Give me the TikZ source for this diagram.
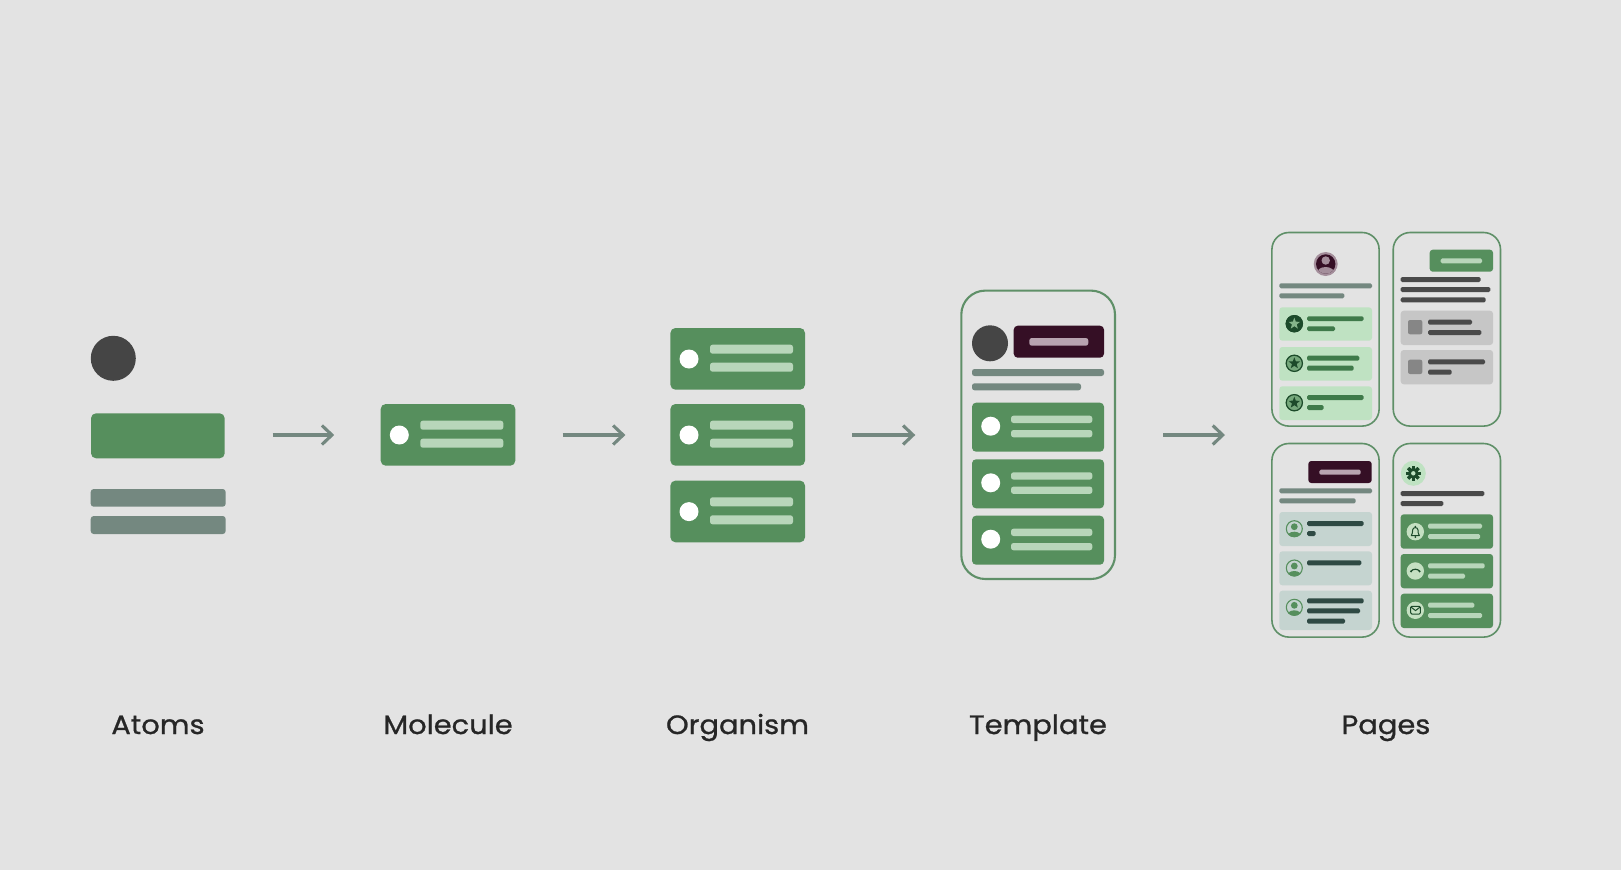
\documentclass[tikz,border=0pt]{standalone}
\usepackage{fontspec}
\setmainfont{Poppins}[FakeBold=0.9,FakeStretch=1.09]
\usetikzlibrary{arrows.meta,shapes.geometric}
\definecolor{bg}{HTML}{E3E3E3}
\definecolor{leaf}{HTML}{568F5D}
\definecolor{slate}{HTML}{748880}
\definecolor{char}{HTML}{454545}
\definecolor{plum}{HTML}{350F25}
\definecolor{mauve}{HTML}{B8A4B0}
\definecolor{pale}{HTML}{B8D6BA}
\definecolor{mint}{HTML}{BFE2C2}
\definecolor{mintbar}{HTML}{3F7A4A}
\definecolor{forest}{HTML}{1C4A2A}
\definecolor{cardgray}{HTML}{C6C6C6}
\definecolor{squaregray}{HTML}{868686}
\definecolor{barg}{HTML}{4A4A4A}
\definecolor{cardblue}{HTML}{C5D4D0}
\definecolor{bardeep}{HTML}{2F4A44}
\definecolor{ink}{HTML}{262626}
\definecolor{frameg}{HTML}{5F9068}
\definecolor{iconpale}{HTML}{C5E0C2}
\newcount\shapeno
\newcommand{\nextname}{\global\advance\shapeno by 1 }
% \rr[name]{x1}{y1}{x2}{y2}{colour}{radius}
\newcommand{\rr}[7][]{%
  \pgfmathsetmacro\rw{#4-(#2)}\pgfmathsetmacro\rh{#5-(#3)}%
  \nextname
  \def\thisname{#1}\ifx\thisname\empty\edef\thisname{s\the\shapeno}\fi
  \node[shapebox,fill=#6,rounded corners=#7pt,minimum width=\rw pt,minimum height=\rh pt] (\thisname) at (#2,#3) {};}
% \cc[name]{x}{y}{r}{colour}
\newcommand{\cc}[5][]{%
  \pgfmathsetmacro\rd{2*#4}%
  \nextname
  \def\thisname{#1}\ifx\thisname\empty\edef\thisname{s\the\shapeno}\fi
  \node[dot,fill=#5,minimum size=\rd pt] (\thisname) at (#2,#3) {};}
% \frm[name]{x1}{y1}{x2}{y2}{radius}{width}
\newcommand{\frm}[7][]{%
  \pgfmathsetmacro\rw{#4-(#2)}\pgfmathsetmacro\rh{#5-(#3)}%
  \node[shapebox,draw=frameg,line width=#7pt,rounded corners=#6pt,minimum width=\rw pt,minimum height=\rh pt] (#1) at (#2,#3) {};}
% big card of molecule/organism: \card[name]{x}{y}
\newcommand{\card}[3][]{%
  \pgfmathsetmacro\xa{#2+134.6}\pgfmathsetmacro\ya{#3+61.7}%
  \rr[#1]{#2}{#3}{\xa}{\ya}{leaf}{5}%
  \pgfmathsetmacro\xb{#2+18.6}\pgfmathsetmacro\yb{#3+31}%
  \cc{\xb}{\yb}{9.5}{white}%
  \pgfmathsetmacro\xc{#2+39.6}\pgfmathsetmacro\xd{#2+122.6}\pgfmathsetmacro\yc{#3+16.7}\pgfmathsetmacro\yd{#3+25.7}\pgfmathsetmacro\ye{#3+34.7}\pgfmathsetmacro\yf{#3+43.7}%
  \rr{\xc}{\yc}{\xd}{\yd}{pale}{2.5}%
  \rr{\xc}{\ye}{\xd}{\yf}{pale}{2.5}}
\newcommand{\tcard}[1]{% template card, top y
  \pgfmathsetmacro\ya{#1+49}\rr{972}{#1}{1104}{\ya}{leaf}{4}%
  \pgfmathsetmacro\yb{#1+23.5}\cc{990.7}{\yb}{9.5}{white}%
  \pgfmathsetmacro\yc{#1+13}\pgfmathsetmacro\yd{#1+20.3}\pgfmathsetmacro\ye{#1+27.3}\pgfmathsetmacro\yf{#1+34.6}%
  \rr{1011}{\yc}{1092.3}{\yd}{pale}{2.5}%
  \rr{1011}{\ye}{1092.3}{\yf}{pale}{2.5}}
\newcommand{\staricon}[4]{% x y ringfill starfill
  \cc{#1}{#2}{8.7}{#3}%
  \nextname
  \node[draw=forest,line width=1.2pt,circle,minimum size=16.2pt,inner sep=0pt,outer sep=0pt] (s\the\shapeno) at (#1,#2) {};
  \nextname
  \node[star,star points=5,star point ratio=2.4,fill=#4,minimum size=12pt,inner sep=0pt,outer sep=0pt] (s\the\shapeno) at (#1,#2) {};}
\newcommand{\usericon}[2]{%
  \begin{scope}
    \clip (#1,#2) circle (8.5pt);
    \fill[cardblue] (#1,#2) circle (8.5pt);
    \fill[leaf] (#1,#2) ++(0,-2) circle (3.4pt);
    \fill[leaf] (#1,#2) ++(0,9.5) ellipse (8pt and 6.5pt);
  \end{scope}
  \nextname
  \node[draw=leaf,line width=1.1pt,circle,minimum size=16pt,inner sep=0pt,outer sep=0pt] (s\the\shapeno) at (#1,#2) {};}
\tikzset{
  shapebox/.style={rectangle,anchor=north west,inner sep=0pt,outer sep=0pt},
  dot/.style={circle,inner sep=0pt,outer sep=0pt},
  stage/.style={rectangle,inner sep=0pt,outer sep=0pt,minimum height=10pt},
  flow/.style={draw=slate,line width=3.1pt,-{Straight Barb[length=10pt,width=19pt,line width=3.1pt]}},
  caption/.style={text=ink,font=\fontsize{26.5pt}{30pt}\selectfont,anchor=base,inner sep=0pt}
}
\begin{document}
\begin{tikzpicture}[x=1pt,y=-1pt]
\useasboundingbox (0,0) rectangle (1621,870);
\fill[bg] (0,0) rectangle (1621,870);
% Atoms
\cc[atomdot]{113.3}{358.3}{22.5}{char}
\rr[atomrect]{91}{413.3}{224.7}{458.3}{leaf}{5}
\rr[atombar]{90.7}{489}{225.7}{506.7}{slate}{3}
\rr[atombarb]{90.7}{516}{225.7}{534}{slate}{3}
\node[stage,minimum width=135pt] (atoms) at (158.2,435) {};
% Molecule
\card[molecule]{380.7}{404}
% Organism
\card[orgtop]{670.4}{328}
\card[organism]{670.4}{404}
\card[orgbot]{670.4}{480.6}
% Template
\frm[template]{961.3}{290.6}{1115}{579}{24}{2.1}
\cc{990}{343.3}{18}{char}
\rr{1013.7}{325.7}{1104}{357.7}{plum}{4}
\rr{1029.3}{338}{1088.3}{345.7}{mauve}{2.5}
\rr{972}{369}{1104}{376}{slate}{2.5}
\rr{972}{383.3}{1081}{390.3}{slate}{2.5}
\tcard{402.7}\tcard{459.3}\tcard{515.7}
% Pages: A
\frm[pagea]{1271.9}{232.5}{1379.1}{426.1}{17}{1.6}
\begin{scope}
  \clip (1325.7,264) circle (12pt);
  \fill[mauve!85!plum] (1325.7,264) circle (12pt);
  \fill[plum] (1325.7,264) circle (9.7pt);
  \fill[mauve!85!plum] (1325.7,260.5) circle (4.2pt);
  \clip (1325.7,264) circle (9.7pt);
  \fill[mauve!85!plum] (1325.7,273.5) ellipse (9pt and 6.5pt);
\end{scope}
\node[dot,minimum size=24pt] (avatar) at (1325.7,264) {};
\rr{1279.3}{283.3}{1372}{288.3}{slate}{1.5}
\rr{1279.3}{293.3}{1344.3}{298.3}{slate}{1.5}
\rr{1279.3}{307.3}{1372}{340.7}{mint}{3}
\rr{1279.3}{347}{1372}{380.7}{mint}{3}
\rr{1279.3}{386.3}{1372}{420}{mint}{3}
\staricon{1294.3}{323.7}{forest}{leaf!55!mint}
\staricon{1294.3}{363.3}{leaf!70!mint}{forest}
\staricon{1294.3}{402.7}{leaf!70!mint}{forest}
\rr{1307}{316.3}{1363.7}{321}{mintbar}{1.5}
\rr{1307}{326.3}{1335}{331}{mintbar}{1.5}
\rr{1307}{355.7}{1359.3}{360.7}{mintbar}{1.5}
\rr{1307}{365.7}{1353.7}{370.7}{mintbar}{1.5}
\rr{1307}{395}{1363.7}{400}{mintbar}{1.5}
\rr{1307}{405}{1323.7}{410}{mintbar}{1.5}
% Pages: B
\frm[pageb]{1393.2}{232.5}{1500.5}{426.1}{17}{1.6}
\rr{1429.7}{249.7}{1493}{271.7}{leaf}{3}
\rr{1440.7}{258.3}{1482}{263.3}{pale}{1.5}
\rr{1400.7}{277}{1480.7}{282}{barg}{1.5}
\rr{1400.7}{287}{1490.3}{292}{barg}{1.5}
\rr{1400.7}{297.3}{1485.7}{302.3}{barg}{1.5}
\rr{1400.7}{310.7}{1493}{345}{cardgray}{3}
\rr{1400.7}{350}{1493}{384.3}{cardgray}{3}
\rr{1408}{320}{1422.3}{334.3}{squaregray}{2}
\rr{1408}{359.7}{1422.3}{374}{squaregray}{2}
\rr{1428}{319.7}{1472}{324.7}{barg}{1.5}
\rr{1428}{330}{1481.3}{335}{barg}{1.5}
\rr{1428}{359.3}{1485}{364.3}{barg}{1.5}
\rr{1428}{369.7}{1451.7}{374.7}{barg}{1.5}
% Pages: C
\frm[pagec]{1271.9}{443.5}{1379.1}{637.1}{17}{1.6}
\rr{1308.3}{461}{1371.7}{483}{plum}{3}
\rr{1319.3}{469.7}{1360.7}{474.7}{mauve}{1.5}
\rr{1279.3}{488.3}{1372}{493.3}{slate}{1.5}
\rr{1279.3}{498.3}{1355.7}{503.3}{slate}{1.5}
\rr{1279.3}{512}{1372}{546}{cardblue}{3}
\rr{1279.3}{551.3}{1372}{585.3}{cardblue}{3}
\rr{1279.3}{590.7}{1372}{630}{cardblue}{3}
\usericon{1294.3}{528.7}
\usericon{1294.3}{568}
\usericon{1294.3}{607.3}
\rr{1307}{521}{1363.7}{526}{bardeep}{1.5}
\rr{1307}{531}{1315.7}{536}{bardeep}{1.5}
\rr{1307}{560.3}{1361.3}{565.3}{bardeep}{1.5}
\rr{1307}{598.3}{1363.7}{603.3}{bardeep}{1.5}
\rr{1307}{608.3}{1360}{613.3}{bardeep}{1.5}
\rr{1307}{618.7}{1345}{623.7}{bardeep}{1.5}
% Pages: D
\frm[paged]{1393.2}{443.5}{1500.5}{637.1}{17}{1.6}
\cc{1413.3}{473.3}{12.5}{mint}
\foreach \a in {0,45,...,315}{\fill[forest,rotate around={\a:(1413.3,473.3)}] (1411.7,466) rectangle (1414.9,480.6);}
\fill[forest] (1413.3,473.3) circle (5.4pt);
\fill[mint] (1413.3,473.3) circle (2.2pt);
\rr{1400.7}{491}{1484.3}{496}{barg}{1.5}
\rr{1400.7}{501}{1443.3}{506}{barg}{1.5}
\rr{1400.7}{514.3}{1493}{548.7}{leaf}{3}
\rr{1400.7}{554}{1493}{588.3}{leaf}{3}
\rr{1400.7}{593.7}{1493}{628}{leaf}{3}
\cc{1415.3}{531.7}{8.7}{iconpale}
\cc{1415.3}{571}{8.7}{iconpale}
\cc{1415.3}{610.3}{8.7}{iconpale}
% bell
\draw[forest,line width=1pt,line join=round] (1411.3,535.6) .. controls (1412.6,534) and (1412.4,532) .. (1412.6,530) .. controls (1412.8,526.8) and (1417.8,526.8) .. (1418,530) .. controls (1418.2,532) and (1418,534) .. (1419.3,535.6) -- cycle;
\fill[forest] (1415.3,526.6) circle (0.9pt);
\fill[forest] (1415.3,537) circle (1pt);
% phone
\draw[forest,line width=1.2pt] (1411,571.2) .. controls (1412.8,568.6) and (1417.8,568.6) .. (1419.6,571.2);
\fill[forest] (1411,571.4) circle (1.1pt) (1419.6,571.4) circle (1.1pt);
% mail
\draw[forest,line width=1pt,rounded corners=1.2pt] (1410.6,606.3) rectangle (1420.4,614);
\draw[forest,line width=1pt,line join=round] (1410.9,607) -- (1415.5,610.6) -- (1420.1,607);
\rr{1428}{523.7}{1482}{528.7}{pale}{1.5}
\rr{1428}{534}{1480}{539}{pale}{1.5}
\rr{1428}{563.3}{1484.7}{568.3}{pale}{1.5}
\rr{1428}{573.7}{1465}{578.7}{pale}{1.5}
\rr{1428}{602.7}{1474.3}{607.7}{pale}{1.5}
\rr{1428}{613}{1482}{618}{pale}{1.5}
% Connectors
\node[stage,minimum width=229pt] (pages) at (1386.2,435) {};
\draw[flow,shorten <=47pt,shorten >=46.5pt] (atoms.east) -- (molecule.west |- atoms.east);
\draw[flow,shorten <=47.3pt,shorten >=45pt] (molecule.east |- atoms.east) -- (organism.west |- atoms.east);
\draw[flow,shorten <=47.3pt,shorten >=46pt] (organism.east |- atoms.east) -- (template.west |- atoms.east);
\draw[flow,shorten <=48.3pt,shorten >=46.7pt] (template.east |- atoms.east) -- (pages.west);
% Captions
\node[caption] (capatoms) at (158,734) {Atoms};
\node[caption] (capmol) at (448,734) {Molecule};
\node[caption] (caporg) at (737.5,734) {Organism};
\node[caption] (captem) at (1038,734) {Template};
\node[caption] (cappag) at (1386,734) {Pages};
\end{tikzpicture}
\end{document}
